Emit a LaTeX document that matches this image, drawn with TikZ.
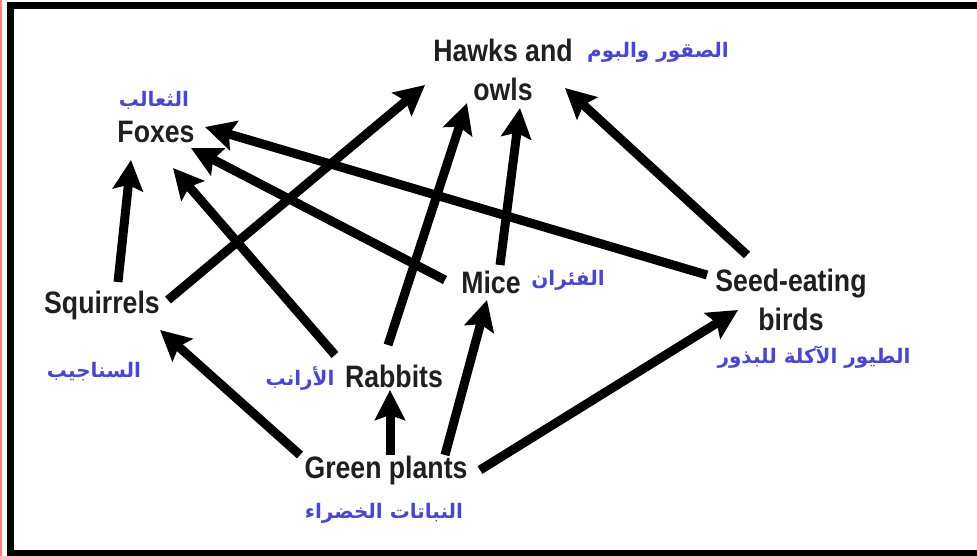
\documentclass[tikz,border=0pt]{standalone}
\usepackage{fontspec}
\setmainfont[FakeStretch=0.86]{Liberation Sans}
\newfontfamily\arabicfont[Script=Arabic]{DejaVu Sans}
\TeXXeTstate=1
\usetikzlibrary{arrows.meta}
\definecolor{arblue}{HTML}{4646DC}
\tikzset{
  en/.style={font=\fontsize{31}{39}\selectfont\bfseries, text=black!88, align=center, inner sep=0pt},
  ar/.style={font=\fontsize{20}{22}\selectfont\arabicfont\bfseries, text=arblue, inner sep=0pt},
  arr/.style={line width=9pt, -{Stealth[length=30pt,width=30pt,inset=5pt]}},
}
\begin{document}
\begin{tikzpicture}[x=1pt,y=-1pt]
\useasboundingbox (0,0) rectangle (977,556);
\fill[white] (0,0) rectangle (977,556);
\draw[red!50, line width=1.5pt] (0.75,0) -- (0.75,556);
\draw[line width=7pt] (10.5,556) -- (10.5,5.5) -- (977,5.5);
\draw[line width=6pt] (7,553) -- (977,553);

\node[en] (hawk) at (503,70) {Hawks and\\owls};
\node[en] (fox) at (156,132) {Foxes};
\node[en] (sq) at (102,305) {Squirrels};
\node[en] (rab) at (394,376) {Rabbits};
\node[en] (mice) at (491,282) {Mice};
\node[en] (seed) at (791,300) {Seed-eating\\birds};
\node[en] (green) at (386,470) {Green plants};

\node[ar] (hawkar) at (658,52) {\beginR الصقور والبوم\endR};
\node[ar] (foxar) at (154,100) {\beginR الثعالب\endR};
\node[ar] (sqar) at (94,372) {\beginR السناجيب\endR};
\node[ar] (rabar) at (300,378) {\beginR الأرانب\endR};
\node[ar] (micear) at (568,280) {\beginR الفئران\endR};
\node[ar] (seedar) at (814,357) {\beginR الطيور الآكلة للبذور\endR};
\node[ar] (greenar) at (384,513) {\beginR النباتات الخضراء\endR};

\draw[arr] ([shift={(16,-23)}]sq.center) -- ([shift={(-25,28)}]fox.center);
\draw[arr] ([shift={(66,-5)}]sq.center) -- ([shift={(-78,15)}]hawk.center);
\draw[arr] ([shift={(-59,-21)}]rab.center) -- ([shift={(17,36)}]fox.center);
\draw[arr] ([shift={(-6,-31)}]rab.center) -- ([shift={(-36,33)}]hawk.center);
\draw[arr] ([shift={(-46,-2)}]mice.center) -- ([shift={(35,16)}]fox.center);
\draw[arr] ([shift={(9,-17)}]mice.center) -- ([shift={(17,38)}]hawk.center);
\draw[arr] ([shift={(-84,-25)}]seed.center) -- ([shift={(49,-5)}]fox.center);
\draw[arr] ([shift={(-44,-45)}]seed.center) -- ([shift={(62,18)}]hawk.center);
\draw[arr] ([shift={(-86,-15)}]green.center) -- ([shift={(58,25)}]sq.center);
\draw[arr] ([shift={(4,-15)}]green.center) -- ([shift={(-4,14)}]rab.center);
\draw[arr] ([shift={(59,-15)}]green.center) -- ([shift={(-4,18)}]mice.center);
\draw[arr] ([shift={(94,0)}]green.center) -- ([shift={(-53,10)}]seed.center);
\end{tikzpicture}
\end{document}
